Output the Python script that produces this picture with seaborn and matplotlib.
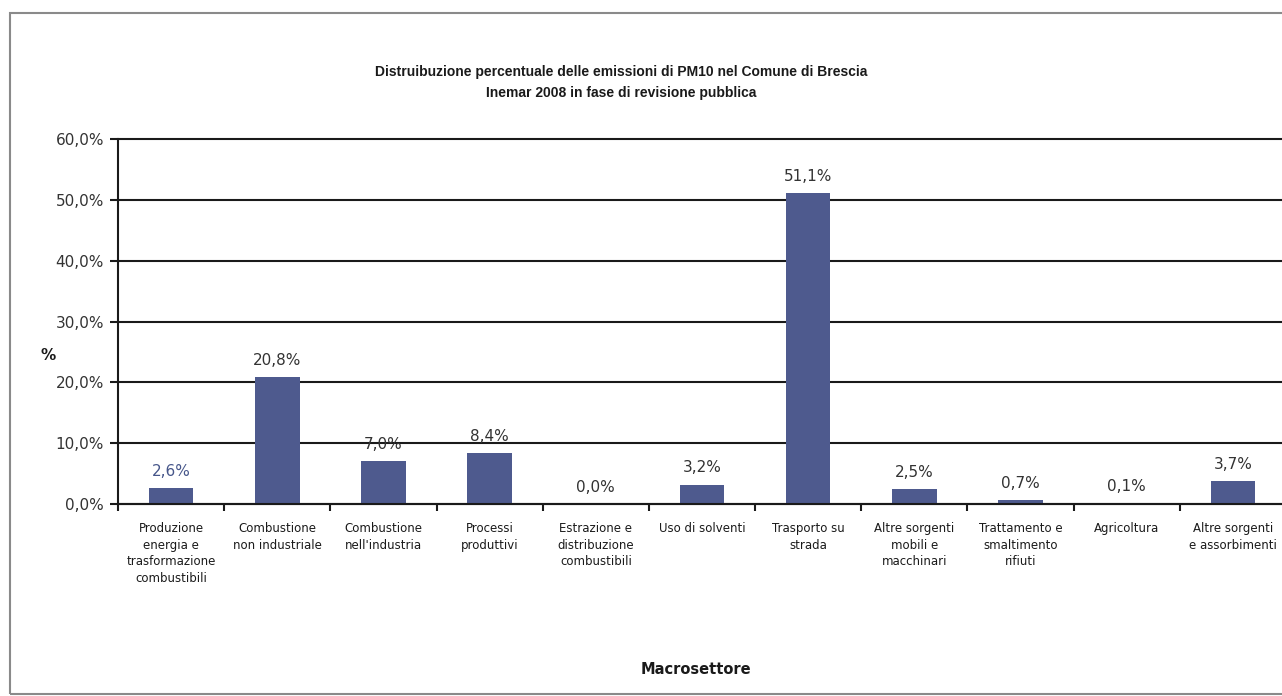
import matplotlib
matplotlib.use("Agg")

import pandas as pd

import seaborn as sns

import matplotlib.pyplot as plt

from matplotlib.patches import Rectangle

# dati
sectors = [
    "Produzione\nenergia e\ntrasformazione\ncombustibili",
    "Combustione\nnon industriale",
    "Combustione\nnell'industria",
    "Processi\nproduttivi",
    "Estrazione e\ndistribuzione\ncombustibili",
    "Uso di solventi",
    "Trasporto su\nstrada",
    "Altre sorgenti\nmobili e\nmacchinari",
    "Trattamento e\nsmaltimento\nrifiuti",
    "Agricoltura",
    "Altre sorgenti\ne assorbimenti",
]

shares = [2.6, 20.8, 7.0, 8.4, 0.0, 3.2, 51.1, 2.5, 0.7, 0.1, 3.7]

value_labels = ["2,6%", "20,8%", "7,0%", "8,4%", "0,0%", "3,2%", "51,1%", "2,5%", "0,7%", "0,1%", "3,7%"]

y_ticks = [0, 10, 20, 30, 40, 50, 60]

y_tick_labels = ["0,0%", "10,0%", "20,0%", "30,0%", "40,0%", "50,0%", "60,0%"]

title_lines = [
    "Distruibuzione percentuale delle emissioni di PM10 nel Comune di Brescia",
    "Inemar 2008 in fase di revisione pubblica",
]

BAR = "#4e5a8e"
INK = "#1a1a1a"
TXT = "#333333"

W, H = 1282, 696

sns.set_theme(style="white")
plt.rcParams['font.family'] = ['DejaVu Sans']

fig = plt.figure(figsize=(W / 100, H / 100), dpi=100)

ax = fig.add_axes([118 / W, 1 - 504 / H, (1286 - 118) / W, (504 - 139) / H])

df = pd.DataFrame({'Macrosettore': sectors, 'Quota': shares})

sns.barplot(data=df, x='Macrosettore', y='Quota', color=BAR, width=0.42, saturation=1,
            linewidth=0, ax=ax)

ax.set_xlim(-0.5, len(sectors) - 0.5)
ax.set_ylim(0, 60)

ax.set_yticks(y_ticks)
ax.set_yticklabels(y_tick_labels, fontsize=11, color=TXT)

ax.yaxis.grid(True, color=INK, lw=1.5)
ax.set_axisbelow(True)
for line in ax.get_ygridlines():
    line.set_clip_on(False)

for side in ['top', 'right']:
    ax.spines[side].set_visible(False)
for side in ['left', 'bottom']:
    ax.spines[side].set_color(INK)
    ax.spines[side].set_linewidth(1.5)

ax.tick_params(axis='y', left=True, length=6, width=1.5, color=INK, direction='out', pad=4)

ax.set_xticks(range(len(sectors)))
ax.set_xticklabels(sectors, fontsize=8.5, color=INK, linespacing=1.35)
ax.tick_params(axis='x', which='major', length=0, pad=13)

ax.set_xticks([i - 0.5 for i in range(len(sectors) + 1)], minor=True)
ax.tick_params(axis='x', which='minor', bottom=True, length=5, width=1.5, color=INK, direction='out')

ax.set_xlabel('')
ax.set_ylabel('')

for i, (v, lab) in enumerate(zip(shares, value_labels)):
    col = "#46568a" if i == 0 else TXT
    ax.annotate(lab, (i, v), xytext=(0, 12), textcoords='offset points',
                ha='center', va='center', fontsize=11, color=col)

fig.text(621 / W, 1 - 72 / H, title_lines[0], ha='center', va='center',
         fontsize=10, fontweight='bold', color=INK, family=['Liberation Sans', 'DejaVu Sans'])
fig.text(621 / W, 1 - 93 / H, title_lines[1], ha='center', va='center',
         fontsize=10, fontweight='bold', color=INK, family=['Liberation Sans', 'DejaVu Sans'])

fig.text(48 / W, 1 - 356 / H, '%', ha='center', va='center', fontsize=11, fontweight='bold', color=INK)

fig.text(696 / W, 1 - 670 / H, 'Macrosettore', ha='center', va='center',
         fontsize=10.5, fontweight='bold', color=INK)

fig.patches.append(Rectangle((10 / W, 1 - 694 / H), 1.2, (694 - 13) / H,
                             transform=fig.transFigure, fill=False, ec='#8a8a8a', lw=1.5))

fig.savefig('out.png', dpi=100)

plt.close()
